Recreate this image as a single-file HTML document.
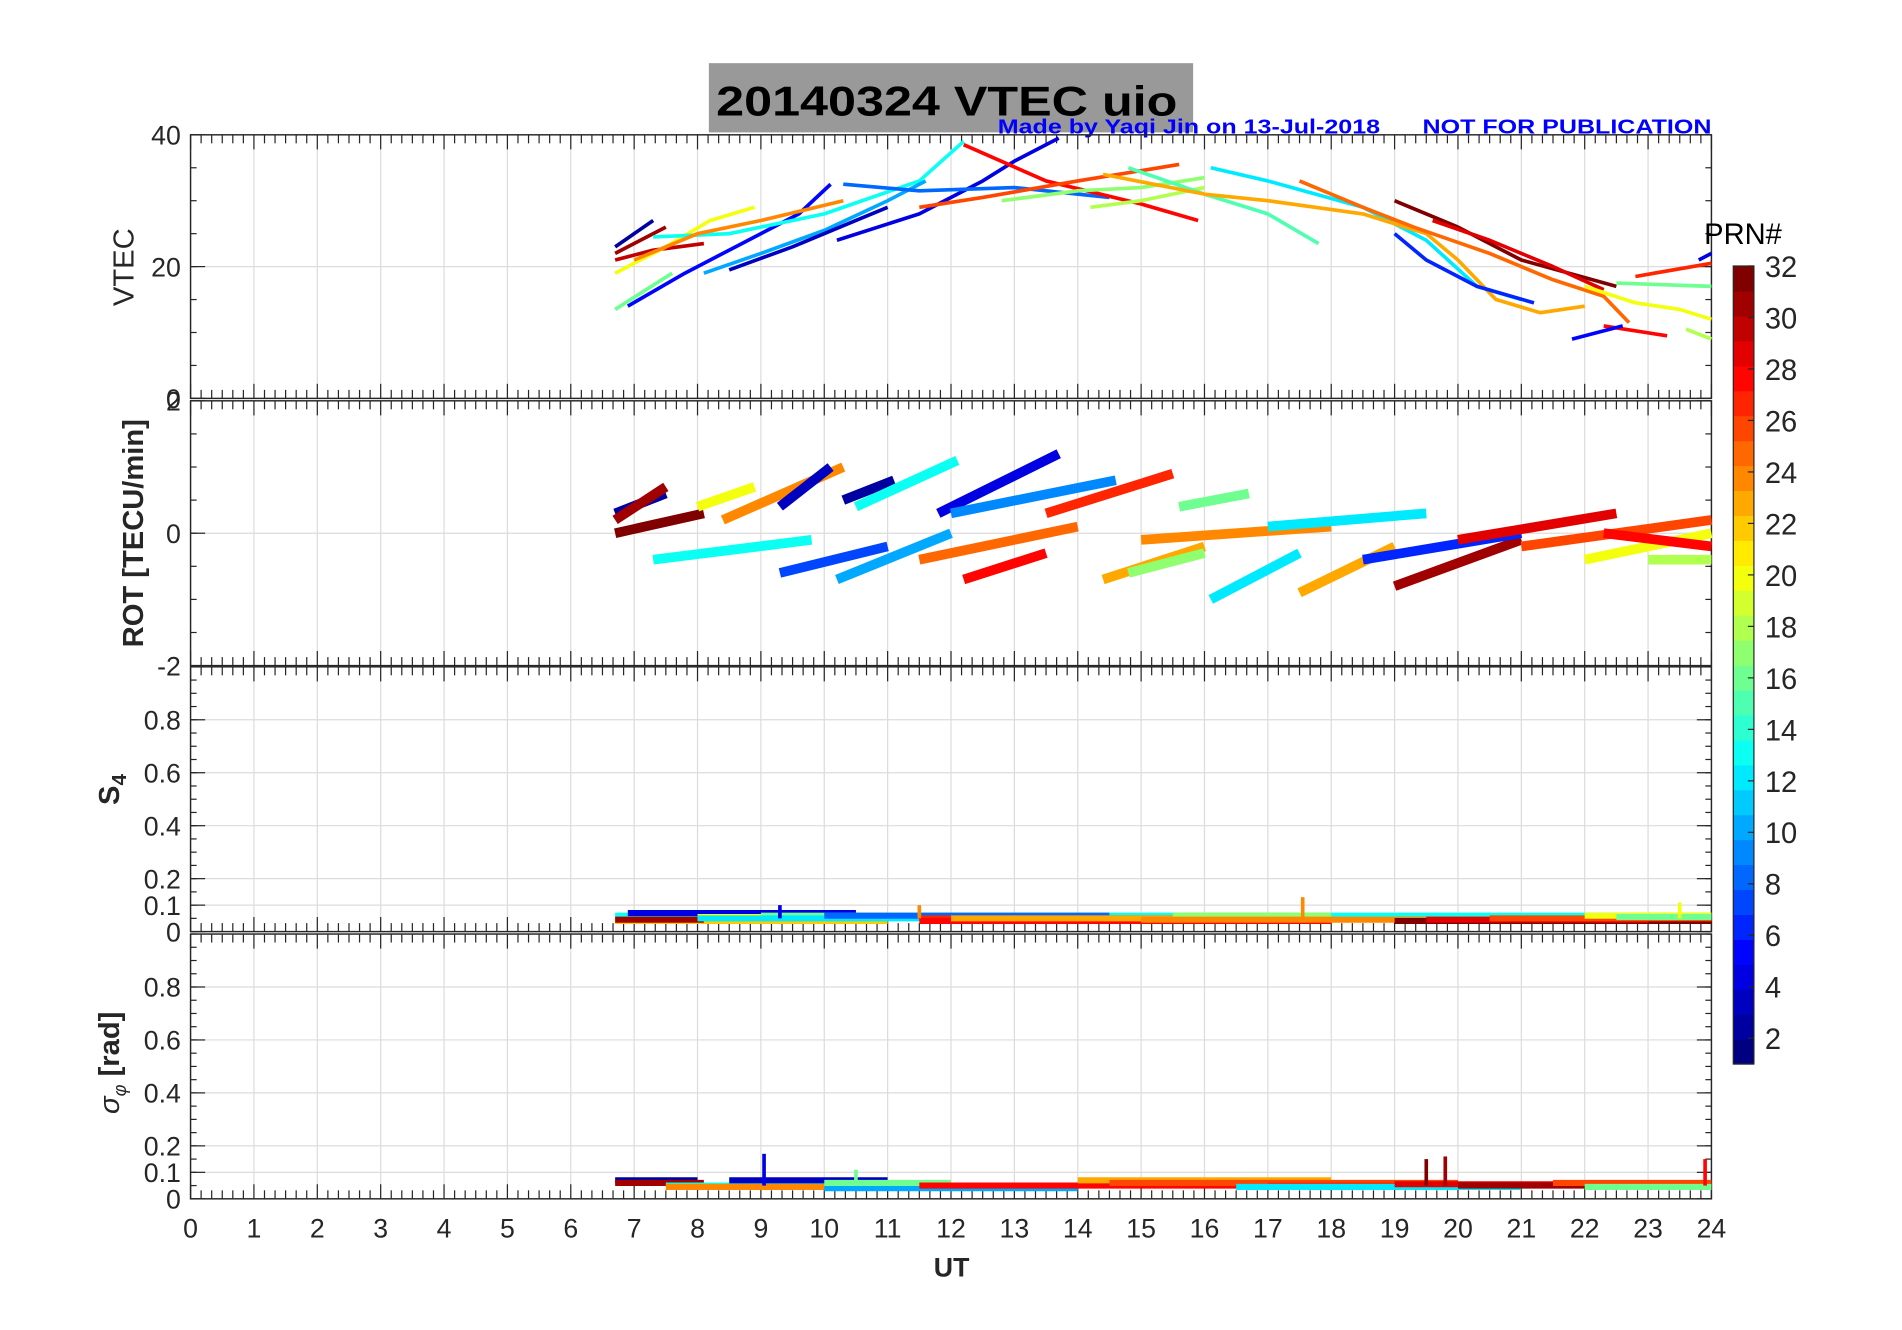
<!DOCTYPE html>
<html><head><meta charset="utf-8"><style>
html,body{margin:0;padding:0;background:#fff;}
svg{display:block;font-family:"Liberation Sans",sans-serif;}
</style></head><body>
<svg id="fig" width="1902" height="1330" viewBox="0 0 1567 1095" preserveAspectRatio="none" xmlns="http://www.w3.org/2000/svg">
<rect x="0" y="0" width="1567" height="1095" fill="#fff"/>
<g id="title">
<rect x="584" y="52" width="399" height="57" fill="#999"/>
<text x="590" y="95" font-size="34" font-weight="bold" textLength="380" lengthAdjust="spacingAndGlyphs">20140324    VTEC  uio</text>
<text x="822" y="110" font-size="17" font-weight="bold" fill="#0000ff" textLength="315" lengthAdjust="spacingAndGlyphs">Made by Yaqi Jin on 13-Jul-2018</text>
<text x="1172" y="110" font-size="17" font-weight="bold" fill="#0000ff" textLength="238" lengthAdjust="spacingAndGlyphs">NOT FOR PUBLICATION</text>
</g>
<g id="layer"></g>
</svg>
<script>
// ---------- data ----------
const hourTicks = [0,1,2,3,4,5,6,7,8,9,10,11,12,13,14,15,16,17,18,19,20,21,22,23,24];
const vtecTicks = [0,20,40];
const rotTicks = [-2,0,2];
const s4Ticks = [0,0.1,0.2,0.4,0.6,0.8];
const sigTicks = [0,0.1,0.2,0.4,0.6,0.8];
const cbTicks = [2,4,6,8,10,12,14,16,18,20,22,24,26,28,30,32];
// VTEC arcs: PRN list and point lists [hour, TECU]
const vtecPrn = [2,31,30,20,16,5,13,24,10,3,4,8,28,26,17,18,15,12,23,25,6,32,29,28,5,20,16,27,4,18];
const vtecArcs = [
[[6.7,23],[7.3,27]],
[[6.7,22],[7.5,26]],
[[6.7,21],[7.3,22.5],[8.1,23.5]],
[[6.7,19],[7.5,23],[8.2,27],[8.9,29]],
[[6.7,13.5],[7.6,19]],
[[6.9,14],[7.8,19],[8.6,23],[9.6,28],[10.1,32.5]],
[[7.3,24.5],[8.5,25],[10,28],[11.5,33],[12.2,39]],
[[7,21],[8,25],[9,27],[10.3,30]],
[[8.1,19],[9,22],[10,25.5],[11,30],[11.6,33]],
[[8.5,19.5],[9.5,23],[10.5,27],[11,29]],
[[10.2,24],[11.5,28],[12.5,33],[13,36],[13.7,39.5]],
[[10.3,32.5],[11.5,31.5],[13,32],[14.5,30.5]],
[[12.2,38.5],[13.5,33],[15,29.5],[15.9,27]],
[[11.5,29],[12.5,30.5],[14,33],[15.6,35.5]],
[[12.8,30],[14,31.5],[15,32],[16,33.5]],
[[14.2,29],[15,30],[16,32]],
[[14.8,35],[16,31],[17,28],[17.8,23.5]],
[[16.1,35],[17,33],[18.5,29],[19.5,24],[20.3,17],[21,15]],
[[14.4,34],[16,31],[17,30],[18.5,28],[19.5,25],[20,21],[20.6,15],[21.3,13],[22,14]],
[[17.5,33],[18.5,29],[19.3,26],[20.5,22],[21.5,18],[22.3,15.5],[22.7,11.5]],
[[19,25],[19.5,21],[20.3,17],[21.2,14.5]],
[[19,30],[20,26],[21,21],[22.5,17]],
[[19.6,27],[20.5,24],[21.5,20],[22.3,16.5]],
[[22.3,11],[23.3,9.5]],
[[21.8,9],[22.6,11]],
[[22,17],[22.8,14.5],[23.5,13.5],[24,12]],
[[22.5,17.5],[24,17]],
[[22.8,18.5],[24,20.5]],
[[23.8,21],[24,22]],
[[23.6,10.5],[24,9]]];
// ROT segments: [startHour, endHour, startVal, endVal]
const rotPrn = [32,2,31,20,13,24,3,2,13,4,9,10,7,27,28,25,16,23,17,12,24,23,12,31,6,29,26,20,28,18];
const rotSegs = [
[6.7,8.1,0.0,0.3],[6.7,7.5,0.3,0.6],[6.7,7.5,0.2,0.7],[8.0,8.9,0.4,0.7],
[7.3,9.8,-0.4,-0.1],[8.4,10.3,0.2,1.0],[9.3,10.1,0.4,1.0],[10.3,11.1,0.5,0.8],
[10.5,12.1,0.4,1.1],[11.8,13.7,0.3,1.2],[12.0,14.6,0.3,0.8],[10.2,12.0,-0.7,0.0],
[9.3,11.0,-0.6,-0.2],[13.5,15.5,0.3,0.9],[12.2,13.5,-0.7,-0.3],[11.5,14.0,-0.4,0.1],
[15.6,16.7,0.4,0.6],[14.4,16.0,-0.7,-0.2],[14.8,16.0,-0.6,-0.3],[16.1,17.5,-1.0,-0.3],
[15.0,18.0,-0.1,0.1],[17.5,19.0,-0.9,-0.2],[17.0,19.5,0.1,0.3],[19.0,21.0,-0.8,-0.1],
[18.5,21.0,-0.4,0.0],[20.0,22.5,-0.1,0.3],[21.0,24.0,-0.2,0.2],[22.0,24.0,-0.4,0.0],
[22.3,24.0,0.0,-0.2],[23.0,24.0,-0.4,-0.4]];
// S4 bands: [startHour, endHour, value]
const s4Prn = [13,4,22,31,20,16,12,8,27,28,23,17,24,32,29,26,20,16];
const s4Segs = [
[6.7,24,0.06],[6.9,10.5,0.07],[6.7,11,0.04],[6.7,8.1,0.045],[8,12,0.055],[9,12,0.06],
[8,14,0.05],[10,14.5,0.06],[11.5,16,0.05],[11.5,18,0.04],[12,17,0.05],[15.5,18,0.06],
[15,20.5,0.045],[19,24,0.04],[19.5,23,0.045],[20.5,24,0.05],[22,24,0.06],[22.5,24,0.055]];
const sigPrn = [2,31,20,13,24,3,10,16,28,23,26,27,12,29,31,26,16];
const sigSegs = [
[6.7,8,0.07],[6.7,8.1,0.06],[8,11,0.05],[7.5,12,0.05],[7.5,11,0.045],[8.5,11,0.07],
[10,14,0.04],[10,12,0.06],[11.5,17,0.05],[14,18,0.07],[14.5,20,0.06],[17,20,0.05],
[16.5,21,0.045],[19,24,0.055],[20,24,0.05],[21.5,24,0.06],[22,24,0.045]];
// spikes: [hour, peakVal, prn]
const sigSpikes = [[9.05,0.17,4],[19.5,0.15,32],[19.8,0.16,31],[10.5,0.11,16],[23.9,0.15,28]];
const s4Spikes = [[17.55,0.13,24],[9.3,0.1,4],[23.5,0.11,20],[11.5,0.1,24]];

// ---------- layout ----------
const NS="http://www.w3.org/2000/svg";
const L=157,R=1410;
const panels=[{t:111,b:328},{t:330,b:548},{t:549,b:767},{t:769,b:987}];
const layer=document.getElementById('layer');
function el(tag,attrs,parent){const e=document.createElementNS(NS,tag);for(const k in attrs)e.setAttribute(k,attrs[k]);(parent||layer).appendChild(e);return e;}
function xs(h){return L+(R-L)*h/24;}
function jet(p){const x=(p-1)/31;const c=v=>Math.round(255*Math.max(0,Math.min(1,v)));
 return `rgb(${c(1.5-Math.abs(4*x-3))},${c(1.5-Math.abs(4*x-2))},${c(1.5-Math.abs(4*x-1))})`;}
function mkY(p,lo,hi){return v=>p.b-(p.b-p.t)*(v-lo)/(hi-lo);}
const yV=mkY(panels[0],0,40),yR=mkY(panels[1],-2,2),yS=mkY(panels[2],0,1),yG=mkY(panels[3],0,1);

function axes(p,ys,ticks,name,lo,hi,minorStep){
 const g=el('g',{});
 
 
 for(const h of hourTicks){const l=el('line',{x1:xs(h),x2:xs(h),y1:p.t,y2:p.b,stroke:'#dcdcdc','stroke-width':1},g);
  }
 for(const v of ticks){if(v===lo||v===hi)continue;const l=el('line',{x1:L,x2:R,y1:ys(v),y2:ys(v),stroke:'#dcdcdc','stroke-width':1},g);
  }
 for(let m=0;m<=24*6;m++){const x=xs(m/6);const len=(m%6===0)?12:7;
  el('line',{x1:x,x2:x,y1:p.b,y2:p.b-len,stroke:'#262626','stroke-width':1},g);
  el('line',{x1:x,x2:x,y1:p.t,y2:p.t+len,stroke:'#262626','stroke-width':1},g);}
 for(let v=lo;v<=hi+1e-9;v+=minorStep){const y=ys(v);el('line',{x1:L,x2:L+5,y1:y,y2:y,stroke:'#262626'},g);el('line',{x1:R,x2:R-5,y1:y,y2:y,stroke:'#262626'},g);}
 for(const v of ticks){const y=ys(v);el('line',{x1:L,x2:L+12,y1:y,y2:y,stroke:'#262626'},g);el('line',{x1:R,x2:R-12,y1:y,y2:y,stroke:'#262626'},g);
  const t=el('text',{x:L-8,y:y+8,'font-size':22,'text-anchor':'end',fill:'#262626'},g);t.textContent=String(v);
  }
 el('rect',{x:L,y:p.t,width:R-L,height:p.b-p.t,fill:'none',stroke:'#262626','stroke-width':1.2},g);
 return g;}
axes(panels[0],yV,vtecTicks,'vtec',0,40,5);
axes(panels[1],yR,rotTicks,'rot',-2,2,0.5);
axes(panels[2],yS,s4Ticks,'s4',0,1,0.05);
axes(panels[3],yG,sigTicks,'sigma-phi',0,1,0.05);

// x tick labels
for(const h of hourTicks){const t=el('text',{x:xs(h),y:1019,'font-size':22,'text-anchor':'middle',fill:'#262626'});t.textContent=String(h);
 
 }

// VTEC
vtecArcs.forEach((arc,i)=>{const pl=el('polyline',{points:arc.map(p=>xs(p[0])+','+yV(p[1])).join(' '),fill:'none',stroke:jet(vtecPrn[i]),'stroke-width':3,'stroke-linejoin':'round'});
 
 });
// ROT
rotSegs.forEach((s,i)=>{const pl=el('polyline',{points:xs(s[0])+','+yR(s[2])+' '+xs(s[1])+','+yR(s[3]),fill:'none',stroke:jet(rotPrn[i]),'stroke-width':8});
 
 });
// S4
s4Segs.forEach((s,i)=>{const pl=el('line',{x1:xs(s[0]),x2:xs(s[1]),y1:yS(s[2]),y2:yS(s[2]),stroke:jet(s4Prn[i]),'stroke-width':5});
 
 });
s4Spikes.forEach(s=>{const pl=el('line',{x1:xs(s[0]),x2:xs(s[0]),y1:yS(0.05),y2:yS(s[1]),stroke:jet(s[2]),'stroke-width':3});
 
 });
// sigma
sigSegs.forEach((s,i)=>{const pl=el('line',{x1:xs(s[0]),x2:xs(s[1]),y1:yG(s[2]),y2:yG(s[2]),stroke:jet(sigPrn[i]),'stroke-width':5});
 
 });
sigSpikes.forEach(s=>{const pl=el('line',{x1:xs(s[0]),x2:xs(s[0]),y1:yG(0.05),y2:yG(s[1]),stroke:jet(s[2]),'stroke-width':3});
 
 });

// axis titles
function ylab(txt,x,y,bold,name){const t=el('text',{x:x,y:y,'font-size':24,'text-anchor':'middle',fill:'#262626','font-weight':bold?'bold':'normal',transform:`rotate(-90 ${x} ${y})`});t.textContent=txt;
 return t;}
ylab('VTEC',110,220,false,'vtec-y-title');
ylab('ROT [TECU/min]',118,439,true,'rot-y-title');
const s4t=ylab('',98,650,true,'s4-y-title');
s4t.innerHTML='S<tspan font-size="17" dy="6">4</tspan>';
const sgt=ylab('',98,875,true,'sigma-y-title');
sgt.innerHTML='<tspan font-style="italic" font-weight="normal">σ</tspan><tspan font-size="15" dy="6" font-style="italic" font-weight="normal">φ</tspan><tspan dy="-6"> [rad]</tspan>';
const ut=el('text',{x:784,y:1051,'font-size':22,'font-weight':'bold','text-anchor':'middle',fill:'#262626'});ut.textContent='UT';



// colorbar
const cbT=219,cbB=876,cbX=1428,cbW=17;
const cb=el('g',{});


for(let p=1;p<=32;p++){const h=(cbB-cbT)/32;el('rect',{x:cbX,y:cbB-p*h,width:cbW,height:h+0.5,fill:jet(p)},cb);}
el('rect',{x:cbX,y:cbT,width:cbW,height:cbB-cbT,fill:'none',stroke:'#262626','stroke-width':1},cb);
const cy=v=>cbB-(cbB-cbT)*(v-1)/31;
for(const v of cbTicks){const y=cy(v);el('line',{x1:cbX+cbW-5,x2:cbX+cbW,y1:y,y2:y,stroke:'#262626'},cb);
 const t=el('text',{x:cbX+26,y:y+9,'font-size':24,fill:'#262626'},cb);t.textContent=String(v);
 
 }
const prn=el('text',{x:1436,y:201,'font-size':24,'text-anchor':'middle',fill:'#000'});prn.textContent='PRN#';


</script>
</body></html>
